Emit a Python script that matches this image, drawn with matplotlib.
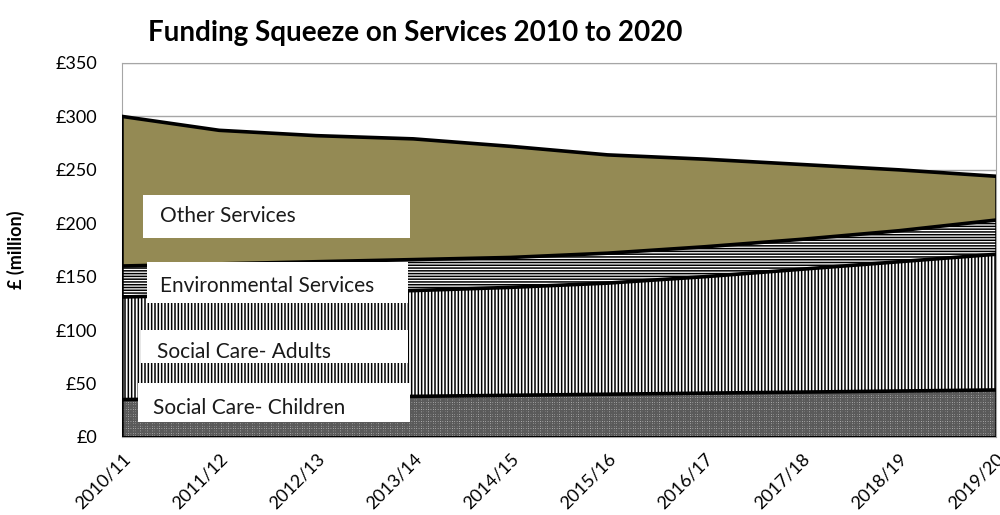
import matplotlib.pyplot as plt
from matplotlib.patches import Rectangle

plt.rcParams['font.family'] = ['Lato', 'DejaVu Sans']
plt.rcParams['hatch.linewidth'] = 1.1

years = ['2010/11', '2011/12', '2012/13', '2013/14', '2014/15',
         '2015/16', '2016/17', '2017/18', '2018/19', '2019/20']
# valores por servicio (millones de libras)
children = [35, 36, 37, 38, 39, 40, 41, 42, 43, 44]
adults = [96, 97, 98, 99, 101, 104, 109, 115, 121, 127]
environmental = [29, 29, 29, 29, 28, 28, 28, 28, 29, 32]
other = [140, 125, 118, 113, 104, 92, 82, 70, 57, 41]

names = ['Social Care- Children', 'Social Care- Adults',
         'Environmental Services', 'Other Services']
hatches = ['+++++++', '|||||', '------', None]
colors = ['#d0d0d0', 'white', 'white', '#948a54']
hatch_cols = ['#5a5a5a', 'black', 'black', 'black']

fig, ax = plt.subplots(figsize=(10, 5.15), dpi=100)
fig.subplots_adjust(left=0.122, right=0.996, bottom=0.1515, top=0.8777)

x = list(range(len(years)))
for v in range(50, 351, 50):
    ax.axhline(v, color='#a6a6a6', lw=1, zorder=0)

base = [0] * len(x)
series = [children, adults, environmental, other]
for vals, name, h, c, hc in zip(series, names, hatches, colors, hatch_cols):
    top = [b + v for b, v in zip(base, vals)]
    ax.fill_between(x, base, top, facecolor=c, hatch=h, edgecolor=hc,
                    linewidth=0, zorder=2)
    ax.plot(x, top, color='black', lw=2.6, zorder=3)
    base = top
ax.plot([0, 0], [0, base[0]], color='black', lw=1.8, zorder=3)
ax.plot([x[-1], x[-1]], [0, base[-1]], color='black', lw=1.8, zorder=3)
ax.plot([0, x[-1]], [0, 0], color='black', lw=2.2, zorder=3)

# cajas de etiquetas
boxes = [
    (0.024, 0.532, 0.306, 0.115, 0.043, 0.591, 'Other Services'),
    (0.029, 0.358, 0.298, 0.110, 0.043, 0.404, 'Environmental Services'),
    (0.022, 0.198, 0.305, 0.088, 0.040, 0.227, 'Social Care- Adults'),
    (0.018, 0.040, 0.312, 0.104, 0.036, 0.078, 'Social Care- Children'),
]
for bx, by, bw, bh, tx, ty, txt in boxes:
    ax.add_patch(Rectangle((bx, by), bw, bh, transform=ax.transAxes,
                           facecolor='white', edgecolor='none', zorder=4))
    ax.text(tx, ty, txt, transform=ax.transAxes, fontsize=15,
            va='center', ha='left', color='#1a1a1a', zorder=5)

ax.set_xlim(0, x[-1])
ax.set_ylim(0, 350)
ax.set_yticks(range(0, 351, 50))
ax.set_yticklabels(['£' + str(v) for v in range(0, 351, 50)], fontsize=13)
ax.set_xticks(x)
ax.set_xticklabels(years, rotation=45, ha='right', rotation_mode='anchor',
                   fontsize=13)
ax.tick_params(axis='y', length=0, pad=18)
ax.tick_params(axis='x', length=0, pad=10)
for s in ax.spines.values():
    s.set_color('#a6a6a6')
ax.set_ylabel('£ (million)', fontsize=13, fontweight='bold', labelpad=22)

fig.text(0.148, 0.935, 'Funding Squeeze on Services 2010 to 2020',
         fontsize=20, fontweight='bold', va='center', ha='left')

fig.savefig('out.png', dpi=100)
